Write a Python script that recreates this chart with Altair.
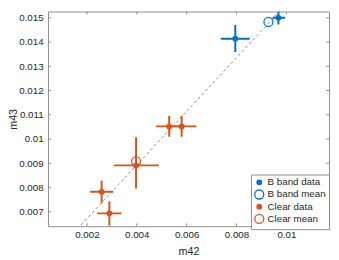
import altair as alt
import pandas as pd

series_domain = ["B band data", "B band mean", "Clear data", "Clear mean"]
blue = "#0072BD"
orange = "#D95319"

# B band data points with error bar extents
b_x = [0.00795, 0.00968]
b_y = [0.01414, 0.01500]
b_xlo = [0.00737, 0.00944]
b_xhi = [0.00853, 0.00995]
b_ylo = [0.01359, 0.01473]
b_yhi = [0.01470, 0.01525]

# Clear data points with error bar extents
c_x = [0.00259, 0.00290, 0.00397, 0.00530, 0.00580]
c_y = [0.00782, 0.00693, 0.00891, 0.01052, 0.01052]
c_xlo = [0.00213, 0.00241, 0.00309, 0.00478, 0.00525]
c_xhi = [0.00306, 0.00339, 0.00489, 0.00584, 0.00639]
c_ylo = [0.00735, 0.00643, 0.00796, 0.01009, 0.01009]
c_yhi = [0.00828, 0.00743, 0.01007, 0.01096, 0.01096]

# means
mean_labels = ["B band mean", "Clear mean"]
mean_x = [0.00928, 0.00397]
mean_y = [0.01483, 0.00908]

# dashed reference line
fit_slope = 1.107
fit_intercept = 0.0045
fit_x = [0.0003, 0.0118]

x_ticks = [0.002, 0.004, 0.006, 0.008, 0.010]
y_ticks = [0.007, 0.008, 0.009, 0.010, 0.011, 0.012, 0.013, 0.014, 0.015]

x_domain = [0.00044, 0.01171]
y_domain = [0.0064, 0.01526]

W, H = 288, 220
FONT = "Liberation Sans"
FRAME = "#8c8c8c"

xs = alt.Scale(domain=x_domain, nice=False, zero=False)
ys = alt.Scale(domain=y_domain, nice=False, zero=False)
xaxis = alt.Axis(values=x_ticks, format="~g", tickSize=0, domain=False, grid=False,
                 labelPadding=4, title="m42", titlePadding=6)
yaxis = alt.Axis(values=y_ticks, format="~g", tickSize=0, domain=False, grid=False,
                 labelPadding=5, title="m43", titleX=-35, titleY=H / 2,
                 titleBaseline="middle", titleAngle=270)


def X(f):
    return alt.X(f, type="quantitative", scale=xs, axis=xaxis)


def Y(f):
    return alt.Y(f, type="quantitative", scale=ys, axis=yaxis)


bdf = pd.DataFrame({"x": b_x, "y": b_y, "xlo": b_xlo, "xhi": b_xhi, "ylo": b_ylo, "yhi": b_yhi})
cdf = pd.DataFrame({"x": c_x, "y": c_y, "xlo": c_xlo, "xhi": c_xhi, "ylo": c_ylo, "yhi": c_yhi})

pts = pd.DataFrame({
    "x": b_x + c_x + mean_x,
    "y": b_y + c_y + mean_y,
    "series": ["B band data"] * len(b_x) + ["Clear data"] * len(c_x) + mean_labels,
    "order": [0] * (len(b_x) + len(c_x)) + [1] * len(mean_x),
})

fit_df = pd.DataFrame({"x": fit_x, "y": [fit_slope * v + fit_intercept for v in fit_x]})

layers = []

fit = alt.Chart(fit_df).mark_line(color="#707070", strokeDash=[3, 2.5], strokeWidth=0.8, clip=True).encode(
    x=X("x"), y=Y("y"))
layers.append(fit)

for df, col in [(bdf, blue), (cdf, orange)]:
    layers.append(alt.Chart(df).mark_rule(color=col, strokeWidth=2, clip=True).encode(
        x=X("xlo"), x2="xhi", y=Y("y")))
    layers.append(alt.Chart(df).mark_rule(color=col, strokeWidth=2, clip=True).encode(
        x=X("x"), y=Y("ylo"), y2="yhi"))

points = alt.Chart(pts).mark_point(opacity=1, strokeWidth=1.3, shape="circle").encode(
    x=X("x"), y=Y("y"),
    fill=alt.Fill("series:N", scale=alt.Scale(domain=series_domain,
                                               range=[blue, "transparent", orange, "transparent"]),
                  legend=alt.Legend(title=None)),
    stroke=alt.Stroke("series:N", scale=alt.Scale(domain=series_domain,
                                                   range=[blue, blue, orange, orange]),
                      legend=alt.Legend(title=None)),
    size=alt.Size("series:N", scale=alt.Scale(type="ordinal", domain=series_domain,
                                               range=[22, 85, 22, 85]),
                  legend=alt.Legend(title=None)),
    order="order:Q",
)
layers.append(points)

# inward tick marks on all four sides
xt = pd.DataFrame({"t": x_ticks})
yt = pd.DataFrame({"t": y_ticks})
layers.append(alt.Chart(xt).mark_rule(color=FRAME, strokeWidth=1).encode(
    x=X("t"), y=alt.value(H), y2=alt.value(H - 3)))
layers.append(alt.Chart(xt).mark_rule(color=FRAME, strokeWidth=1).encode(
    x=X("t"), y=alt.value(0), y2=alt.value(3)))
layers.append(alt.Chart(yt).mark_rule(color=FRAME, strokeWidth=1).encode(
    y=Y("t"), x=alt.value(0), x2=alt.value(3)))
layers.append(alt.Chart(yt).mark_rule(color=FRAME, strokeWidth=1).encode(
    y=Y("t"), x=alt.value(W), x2=alt.value(W - 3)))

chart = alt.layer(*layers).properties(
    width=W, height=H,
    autosize=alt.AutoSizeParams(type="none"),
    padding={"left": 41, "top": 0.5, "right": 2, "bottom": 31.5},
).configure_view(
    stroke=FRAME, strokeWidth=1
).configure_axis(
    labelFont=FONT, titleFont=FONT, labelFontSize=10, titleFontSize=11,
    labelColor="#262626", titleColor="#262626", titleFontWeight="normal",
).configure_legend(
    orient="none", legendX=208, legendY=167, direction="vertical",
    strokeColor=FRAME, fillColor="white", padding=3, rowPadding=0,
    labelFont=FONT, labelFontSize=10, labelColor="#262626", labelOffset=3,
    symbolStrokeWidth=1.3, symbolType="circle", offset=0,
)

chart.save("out.html", embed_options={"renderer": "svg", "actions": False})
